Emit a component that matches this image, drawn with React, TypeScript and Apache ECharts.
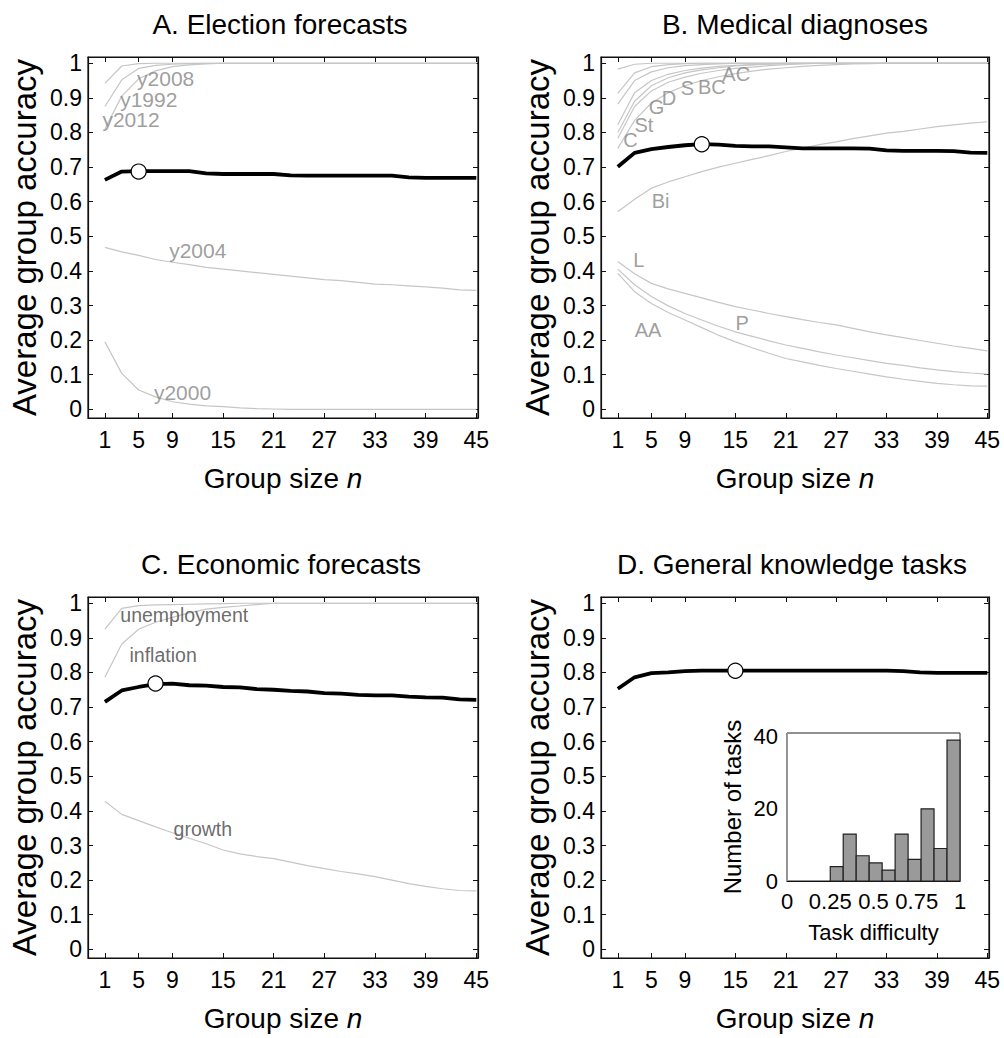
import React, { useEffect, useRef } from 'react';
import * as echarts from 'echarts';

const FONT = '"Liberation Sans", Arial, sans-serif';

// Group sizes n
const N = [1, 3, 5, 7, 9, 11, 13, 15, 17, 19, 21, 23, 25, 27, 29, 31, 33, 35, 37, 39, 41, 43, 45];
const X_TICKS = [1, 5, 9, 15, 21, 27, 33, 39, 45];
const Y_TICKS = [0, 0.1, 0.2, 0.3, 0.4, 0.5, 0.6, 0.7, 0.8, 0.9, 1];
const TITLES = ['A. Election forecasts', 'B. Medical diagnoses', 'C. Economic forecasts', 'D. General knowledge tasks'];

// A. Election forecasts
const A_MEAN = [0.663, 0.687, 0.688, 0.688, 0.688, 0.688, 0.682, 0.680, 0.680, 0.680, 0.680, 0.676, 0.675, 0.675, 0.675, 0.675, 0.675, 0.675, 0.670, 0.669, 0.669, 0.669, 0.669];
const A_Y2008 = [0.942, 0.992, 0.999, 1, 1, 1, 1, 1, 1, 1, 1, 1, 1, 1, 1, 1, 1, 1, 1, 1, 1, 1, 1];
const A_Y1992 = [0.875, 0.952, 0.985, 0.994, 0.997, 0.999, 1, 1, 1, 1, 1, 1, 1, 1, 1, 1, 1, 1, 1, 1, 1, 1, 1];
const A_Y2012 = [0.81, 0.905, 0.955, 0.978, 0.99, 0.995, 0.998, 1, 1, 1, 1, 1, 1, 1, 1, 1, 1, 1, 1, 1, 1, 1, 1];
const A_Y2004 = [0.468, 0.455, 0.445, 0.433, 0.425, 0.418, 0.41, 0.405, 0.4, 0.395, 0.39, 0.385, 0.38, 0.375, 0.372, 0.367, 0.362, 0.36, 0.357, 0.354, 0.35, 0.345, 0.344];
const A_Y2000 = [0.195, 0.104, 0.056, 0.036, 0.022, 0.015, 0.01, 0.008, 0.004, 0.002, 0.001, 0, 0, 0, 0, 0, 0, 0, 0, 0, 0, 0, 0];
const A_BEST = [5, 0.687];
const A_LABELS: [string, number, number][] = [
  ['y2008', 8.2, 0.957], ['y1992', 6.2, 0.895], ['y2012', 4.1, 0.837], ['y2004', 12, 0.46], ['y2000', 10.2, 0.05],
];

// B. Medical diagnoses
const B_MEAN = [0.701, 0.741, 0.752, 0.758, 0.763, 0.766, 0.765, 0.761, 0.760, 0.760, 0.757, 0.754, 0.754, 0.754, 0.754, 0.753, 0.748, 0.747, 0.747, 0.747, 0.746, 0.742, 0.741];
const B_TOP1 = [0.983, 0.997, 1, 1, 1, 1, 1, 1, 1, 1, 1, 1, 1, 1, 1, 1, 1, 1, 1, 1, 1, 1, 1];
const B_TOP2 = [0.913, 0.972, 0.99, 0.996, 0.999, 1, 1, 1, 1, 1, 1, 1, 1, 1, 1, 1, 1, 1, 1, 1, 1, 1, 1];
const B_TOP3 = [0.882, 0.95, 0.975, 0.987, 0.993, 0.996, 0.998, 1, 1, 1, 1, 1, 1, 1, 1, 1, 1, 1, 1, 1, 1, 1, 1];
const B_TOP4 = [0.822, 0.915, 0.95, 0.968, 0.979, 0.986, 0.991, 0.994, 0.996, 0.998, 1, 1, 1, 1, 1, 1, 1, 1, 1, 1, 1, 1, 1];
const B_TOP5 = [0.8, 0.89, 0.935, 0.958, 0.972, 0.981, 0.987, 0.992, 0.995, 0.997, 0.999, 1, 1, 1, 1, 1, 1, 1, 1, 1, 1, 1, 1];
const B_TOP6 = [0.783, 0.875, 0.92, 0.945, 0.96, 0.971, 0.979, 0.985, 0.989, 0.993, 0.996, 0.998, 1, 1, 1, 1, 1, 1, 1, 1, 1, 1, 1];
const B_TOP7 = [0.754, 0.835, 0.885, 0.915, 0.935, 0.95, 0.961, 0.97, 0.977, 0.983, 0.987, 0.991, 0.994, 0.996, 0.998, 0.999, 1, 1, 1, 1, 1, 1, 1];
const B_BI = [0.571, 0.607, 0.639, 0.657, 0.672, 0.687, 0.700, 0.711, 0.722, 0.733, 0.745, 0.755, 0.765, 0.773, 0.782, 0.790, 0.798, 0.803, 0.810, 0.817, 0.822, 0.827, 0.831];
const B_L = [0.427, 0.392, 0.364, 0.348, 0.335, 0.322, 0.309, 0.297, 0.287, 0.277, 0.268, 0.259, 0.251, 0.244, 0.234, 0.224, 0.215, 0.207, 0.199, 0.191, 0.183, 0.176, 0.169];
const B_P = [0.405, 0.36, 0.326, 0.299, 0.277, 0.258, 0.24, 0.224, 0.211, 0.198, 0.186, 0.176, 0.166, 0.157, 0.149, 0.141, 0.133, 0.127, 0.12, 0.114, 0.109, 0.105, 0.102];
const B_AA = [0.393, 0.34, 0.306, 0.28, 0.258, 0.236, 0.214, 0.195, 0.178, 0.162, 0.147, 0.137, 0.127, 0.118, 0.11, 0.102, 0.094, 0.087, 0.081, 0.075, 0.071, 0.068, 0.067];
const B_BEST = [11, 0.766];
const B_LABELS: [string, number, number][] = [
  ['C', 2.5, 0.778], ['St', 4.1, 0.822], ['G', 5.6, 0.874], ['D', 7.1, 0.9], ['S', 9.3, 0.928], ['BC', 12.2, 0.93], ['AC', 15.1, 0.97],
  ['Bi', 6.1, 0.603], ['L', 3.5, 0.432], ['P', 15.8, 0.249], ['AA', 4.6, 0.229],
];

// C. Economic forecasts
const C_MEAN = [0.715, 0.748, 0.758, 0.766, 0.768, 0.763, 0.762, 0.758, 0.757, 0.752, 0.75, 0.747, 0.745, 0.74, 0.739, 0.735, 0.734, 0.734, 0.73, 0.728, 0.727, 0.722, 0.721];
const C_UNEMP = [0.925, 0.985, 0.993, 0.995, 0.996, 0.997, 0.998, 0.999, 1, 1, 1, 1, 1, 1, 1, 1, 1, 1, 1, 1, 1, 1, 1];
const C_INFL = [0.786, 0.882, 0.925, 0.945, 0.959, 0.972, 0.983, 0.988, 0.992, 0.996, 1, 1, 1, 1, 1, 1, 1, 1, 1, 1, 1, 1, 1];
const C_GROWTH = [0.428, 0.39, 0.372, 0.354, 0.337, 0.321, 0.305, 0.287, 0.276, 0.268, 0.262, 0.252, 0.242, 0.233, 0.225, 0.218, 0.21, 0.2, 0.19, 0.182, 0.175, 0.17, 0.169];
const C_BEST = [7, 0.768];
const C_LABELS: [string, number, number][] = [
  ['unemployment', 10.4, 0.966], ['inflation', 7.9, 0.849], ['growth', 12.6, 0.348],
];

// D. General knowledge tasks
const D_MEAN = [0.753, 0.786, 0.798, 0.800, 0.804, 0.805, 0.805, 0.805, 0.805, 0.805, 0.805, 0.805, 0.805, 0.805, 0.805, 0.805, 0.805, 0.804, 0.800, 0.799, 0.799, 0.799, 0.799];
const D_BEST = [15, 0.805];

// Inset histogram (task difficulty)
const HIST_LEFT = [0.25, 0.325, 0.4, 0.475, 0.55, 0.625, 0.7, 0.775, 0.85, 0.925];
const HIST_RIGHT = [0.325, 0.4, 0.475, 0.55, 0.625, 0.7, 0.775, 0.85, 0.925, 1.0];
const HIST_COUNT = [4, 13, 7, 5, 3, 13, 6, 20, 9, 39];
const HIST_X_TICKS = [0, 0.25, 0.5, 0.75, 1];
const HIST_Y_TICKS = [0, 20, 40];

const GRIDS = [
  { left: 88, top: 57, width: 390, height: 361 },
  { left: 601, top: 57, width: 388, height: 361 },
  { left: 88, top: 597, width: 390, height: 361 },
  { left: 601, top: 597, width: 388, height: 361 },
];
const TITLE_POS = [[280, 10], [795, 10], [281, 550], [792, 550]];

const zip = (vals: number[]) => N.map((n, i) => [n, vals[i]]);

function App() {
  const ref = useRef<HTMLDivElement>(null);
  useEffect(() => {
    if (!ref.current) return;
    const chart = echarts.init(ref.current, null, { renderer: 'svg' });

    const grids: any[] = GRIDS.map((g) => ({ ...g, show: true, borderColor: '#111', borderWidth: 1.2, backgroundColor: 'transparent' }));
    grids.push({ left: 787, top: 733, width: 173, height: 148, show: true, borderColor: '#222', borderWidth: 1, backgroundColor: '#fff' });

    const xAxes: any[] = [];
    const yAxes: any[] = [];
    const series: any[] = [];

    const tick = (vals: number[]) => ({ show: true, inside: true, length: 5, customValues: vals, lineStyle: { color: '#111', width: 1 } });
    const axLine = { show: true, onZero: false, lineStyle: { color: '#111', width: 1.2 } };

    for (let p = 0; p < 4; p++) {
      xAxes.push({
        type: 'value', gridIndex: p, position: 'bottom', min: -1, max: 45.2,
        axisLine: axLine, axisTick: tick(X_TICKS), splitLine: { show: false },
        axisLabel: { customValues: X_TICKS, fontSize: 23, color: '#000', fontFamily: FONT, margin: 10 },
        name: 'Group size {i|n}', nameLocation: 'middle', nameGap: 46,
        nameTextStyle: { fontSize: 28, color: '#000', fontFamily: FONT, rich: { i: { fontSize: 28, fontStyle: 'italic', color: '#000', fontFamily: FONT } } },
      });
      xAxes.push({
        type: 'value', gridIndex: p, position: 'top', min: -1, max: 45.2,
        axisLine: axLine, axisTick: tick(X_TICKS), splitLine: { show: false }, axisLabel: { show: false },
      });
      yAxes.push({
        type: 'value', gridIndex: p, position: 'left', min: -0.025, max: 1.018,
        axisLine: axLine, axisTick: tick(Y_TICKS), splitLine: { show: false },
        axisLabel: {
          customValues: Y_TICKS, fontSize: 23, color: '#000', fontFamily: FONT, margin: 6,
          formatter: (v: number) => (v === 0 ? '0' : v === 1 ? '1' : v.toFixed(1)),
        },
        name: 'Average group accuracy', nameLocation: 'middle', nameGap: 47,
        nameTextStyle: { fontSize: 33, color: '#000', fontFamily: FONT },
      });
      yAxes.push({
        type: 'value', gridIndex: p, position: 'right', min: -0.025, max: 1.018,
        axisLine: axLine, axisTick: tick(Y_TICKS), splitLine: { show: false }, axisLabel: { show: false },
      });
    }

    // inset axes
    xAxes.push({
      type: 'value', gridIndex: 4, min: 0, max: 1,
      axisLine: { show: true, onZero: false, lineStyle: { color: '#111', width: 1.2 } },
      axisTick: { show: false }, splitLine: { show: false },
      axisLabel: { customValues: HIST_X_TICKS, fontSize: 22, color: '#000', fontFamily: FONT, margin: 9, formatter: (v: number) => String(v) },
      name: 'Task difficulty', nameLocation: 'middle', nameGap: 40,
      nameTextStyle: { fontSize: 22, color: '#000', fontFamily: FONT },
    });
    yAxes.push({
      type: 'value', gridIndex: 4, min: 0, max: 41,
      axisLine: { show: true, onZero: false, lineStyle: { color: '#999', width: 1 } },
      axisTick: { show: false }, splitLine: { show: false },
      axisLabel: { customValues: HIST_Y_TICKS, fontSize: 22, color: '#000', fontFamily: FONT, margin: 9 },
      name: 'Number of tasks', nameLocation: 'middle', nameGap: 43,
      nameTextStyle: { fontSize: 24, color: '#000', fontFamily: FONT },
    });

    const thin = (p: number, vals: number[]) => ({
      type: 'line', xAxisIndex: p * 2, yAxisIndex: p * 2, data: zip(vals), symbol: 'none', showSymbol: false,
      lineStyle: { color: '#c6c6c6', width: 1.2 }, z: 2, silent: true,
    });
    const thick = (p: number, vals: number[]) => ({
      type: 'line', xAxisIndex: p * 2, yAxisIndex: p * 2, data: zip(vals), symbol: 'none', showSymbol: false,
      lineStyle: { color: '#000', width: 3.8 }, z: 4, silent: true,
    });
    const best = (p: number, pt: number[]) => ({
      type: 'scatter', xAxisIndex: p * 2, yAxisIndex: p * 2, data: [pt], symbol: 'circle', symbolSize: 15,
      itemStyle: { color: '#fff', borderColor: '#000', borderWidth: 1.2, opacity: 1 }, z: 6, silent: true,
    });
    const labels = (p: number, items: [string, number, number][], color: string, size: number, lh: number) => ({
      type: 'scatter', xAxisIndex: p * 2, yAxisIndex: p * 2,
      data: items.map(([name, x, y]) => ({ name, value: [x, y] })),
      symbol: 'circle', symbolSize: 1, itemStyle: { color: 'rgba(0,0,0,0)' }, z: 5, silent: true,
      label: { show: true, position: 'inside', formatter: '{b}', color, fontSize: size, fontFamily: FONT, lineHeight: lh },
    });

    // A
    [A_Y2008, A_Y1992, A_Y2012, A_Y2004, A_Y2000].forEach((v) => series.push(thin(0, v)));
    series.push(thick(0, A_MEAN), best(0, A_BEST), labels(0, A_LABELS, '#858585', 21, 18));
    // B
    [B_TOP1, B_TOP2, B_TOP3, B_TOP4, B_TOP5, B_TOP6, B_TOP7, B_BI, B_L, B_P, B_AA].forEach((v) => series.push(thin(1, v)));
    series.push(thick(1, B_MEAN), best(1, B_BEST), labels(1, B_LABELS, '#858585', 20, 20));
    // C
    [C_UNEMP, C_INFL, C_GROWTH].forEach((v) => series.push(thin(2, v)));
    series.push(thick(2, C_MEAN), best(2, C_BEST), labels(2, C_LABELS, '#454545', 19.5, 20));
    // D
    series.push(thick(3, D_MEAN), best(3, D_BEST));

    // inset histogram
    series.push({
      type: 'custom', xAxisIndex: 8, yAxisIndex: 8,
      data: HIST_COUNT.map((c, i) => [HIST_LEFT[i], HIST_RIGHT[i], c]),
      encode: { x: [0, 1], y: 2 },
      renderItem: (_params: any, api: any) => {
        const a = api.coord([api.value(0), api.value(2)]);
        const b = api.coord([api.value(1), 0]);
        return {
          type: 'rect',
          shape: { x: a[0], y: a[1], width: b[0] - a[0], height: b[1] - a[1] },
          style: { fill: '#9a9a9a', stroke: '#222', lineWidth: 1.2 },
        };
      },
      z: 10, silent: true,
    });

    const titles = TITLES.map((t, i) => ({
      text: t, left: TITLE_POS[i][0], top: TITLE_POS[i][1], textAlign: 'center', padding: 0,
      textStyle: { fontSize: 28, fontWeight: 'normal', color: '#000', fontFamily: FONT },
    }));

    chart.setOption({
      animation: false,
      backgroundColor: '#fff',
      title: titles,
      grid: grids,
      xAxis: xAxes,
      yAxis: yAxes,
      series,
    });
    return () => chart.dispose();
  }, []);

  return <div ref={ref} style={{ position: 'absolute', left: 0, top: 0, width: 1004, height: 1038 }} />;
}

export default App;
